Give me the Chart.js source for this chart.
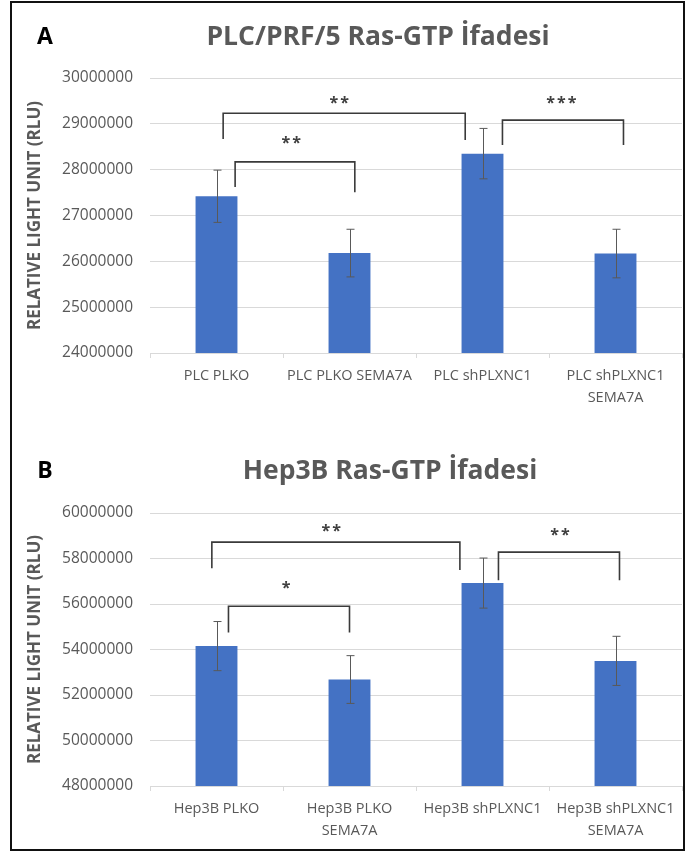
<!DOCTYPE html>
<html>
<head>
<meta charset="utf-8">
<script src="https://cdn.jsdelivr.net/npm/chart.js@4.4.0/dist/chart.umd.min.js"></script>
<style>
  html, body { margin: 0; padding: 0; background: #fff; }
  body { width: 690px; height: 852px; position: relative; overflow: hidden; }
  #frame { position: absolute; left: 10px; top: 1px; width: 675px; height: 850px; box-sizing: border-box; border: 2px solid #111; }
  canvas { position: absolute; }
  #chartA { left: 12px; top: 4px; }
  #chartB { left: 12px; top: 410px; }
</style>
</head>
<body>
<canvas id="chartA" width="671" height="400"></canvas>
<canvas id="chartB" width="671" height="436"></canvas>
<div id="frame"></div>
<script>
const categoriesA = ['PLC PLKO', 'PLC PLKO SEMA7A', 'PLC shPLXNC1', ['PLC shPLXNC1', 'SEMA7A']];
const valuesA = [27420000, 26180000, 28350000, 26170000];
const errorsA = [570000, 520000, 550000, 530000];
const ticksA = [24000000, 30000000, 1000000];

const categoriesB = ['Hep3B PLKO', ['Hep3B PLKO', 'SEMA7A'], 'Hep3B shPLXNC1', ['Hep3B shPLXNC1', 'SEMA7A']];
const valuesB = [54150000, 52680000, 56920000, 53500000];
const errorsB = [1080000, 1050000, 1100000, 1080000];
const ticksB = [48000000, 60000000, 2000000];

// significance brackets: [from, to, top, left leg end, right leg end]
const bracketsA = [
  [0.05, 1.87, 29230000, 28670000, 28650000],
  [0.14, 1.04, 28170000, 27620000, 27510000],
  [2.15, 3.06, 29080000, 28540000, 28540000]
];
const starsA = [[0.93, 29450000, '**'], [0.57, 28580000, '**'], [2.6, 29450000, '***']];

const bracketsB = [
  [-0.035, 1.83, 58720000, 57570000, 57490000],
  [0.09, 1.0, 55900000, 54750000, 54750000],
  [2.12, 3.03, 58280000, 57040000, 57040000]
];
const starsB = [[0.87, 59200000, '**'], [0.53, 56700000, '*'], [2.59, 59030000, '**']];

const FONT = '"Open Sans", sans-serif';
const GRAY = '#595959';

const panelPlugin = {
    id: 'panel',
    afterDatasetsDraw(chart, args, opts) {
        const ctx = chart.ctx;
        const xs = chart.scales.x, ys = chart.scales.y;
        const vals = chart.data.datasets[0].data;

        // error bars
        ctx.save();
        ctx.strokeStyle = GRAY;
        ctx.lineWidth = 1;
        vals.forEach((v, i) => {
            const px = Math.round(xs.getPixelForValue(i)) + 0.5;
            const top = ys.getPixelForValue(v + opts.errors[i]);
            const bot = ys.getPixelForValue(v - opts.errors[i]);
            ctx.beginPath();
            ctx.moveTo(px, top); ctx.lineTo(px, bot);
            ctx.moveTo(px - 4, top); ctx.lineTo(px + 4, top);
            ctx.moveTo(px - 4, bot); ctx.lineTo(px + 4, bot);
            ctx.stroke();
        });

        // brackets
        ctx.strokeStyle = '#3a3a3a';
        ctx.lineWidth = 1.6;
        for (const b of opts.brackets) {
            const x1 = xs.getPixelForValue(b[0]), x2 = xs.getPixelForValue(b[1]);
            ctx.beginPath();
            ctx.moveTo(x1, ys.getPixelForValue(b[3]));
            ctx.lineTo(x1, ys.getPixelForValue(b[2]));
            ctx.lineTo(x2, ys.getPixelForValue(b[2]));
            ctx.lineTo(x2, ys.getPixelForValue(b[4]));
            ctx.stroke();
        }

        // stars
        ctx.fillStyle = '#404040';
        ctx.font = 'bold 16px ' + FONT;
        ctx.textAlign = 'center';
        ctx.textBaseline = 'middle';
        ctx.letterSpacing = '2px';
        for (const s of opts.stars) {
            ctx.fillText(s[2], xs.getPixelForValue(s[0]), ys.getPixelForValue(s[1]));
        }
        ctx.letterSpacing = '0px';

        // panel letter and title
        ctx.fillStyle = '#000';
        ctx.font = 'bold 23px ' + FONT;
        ctx.fillText(opts.letter, 33, opts.titleY);
        ctx.fillStyle = GRAY;
        ctx.font = 'bold 26.5px ' + FONT;
        ctx.fillText(opts.title, opts.titleX, opts.titleY);
        ctx.restore();
    }
};

function makeChart(id, cats, vals, errs, ticks, brackets, stars, panel) {
    const ctx = document.getElementById(id).getContext('2d');
    return new Chart(ctx, {
        type: 'bar',
        data: {
            labels: cats,
            datasets: [{
                data: vals,
                backgroundColor: '#4472C4',
                barPercentage: 0.315,
                categoryPercentage: 1
            }]
        },
        options: {
            responsive: false,
            animation: false,
            layout: { padding: { top: panel.top, right: 1, bottom: 0, left: 0 } },
            plugins: {
                legend: { display: false },
                tooltip: { enabled: false },
                panel: {
                    errors: errs, brackets: brackets, stars: stars,
                    letter: panel.letter, title: panel.title,
                    titleX: panel.titleX, titleY: panel.titleY
                }
            },
            scales: {
                x: {
                    grid: { display: true, drawOnChartArea: false, tickLength: 5, color: '#d9d9d9' },
                    border: { color: '#d9d9d9' },
                    ticks: {
                        padding: 7, color: GRAY, maxRotation: 0, autoSkip: false,
                        font: { family: FONT, size: 14.5, lineHeight: 1.52 }
                    },
                    afterFit: s => { s.height = panel.xHeight; }
                },
                y: {
                    min: ticks[0],
                    max: ticks[1],
                    grid: { color: '#d9d9d9', drawTicks: false },
                    border: { display: false },
                    ticks: {
                        stepSize: ticks[2], padding: 17, color: GRAY,
                        font: { family: FONT, size: 15.5 },
                        callback: v => String(v)
                    },
                    title: {
                        display: true, text: 'RELATIVE LIGHT UNIT (RLU)', color: GRAY,
                        font: { family: FONT, size: 17, weight: 'bold' },
                        padding: { top: 12.5, bottom: 0 }
                    },
                    afterFit: s => { s.width = 138; }
                }
            }
        },
        plugins: [panelPlugin]
    });
}

makeChart('chartA', categoriesA, valuesA, errorsA, ticksA, bracketsA, starsA,
    { top: 74, xHeight: 51, letter: 'A', title: 'PLC/PRF/5 Ras-GTP İfadesi', titleX: 366, titleY: 33 });
makeChart('chartB', categoriesB, valuesB, errorsB, ticksB, bracketsB, starsB,
    { top: 103, xHeight: 60, letter: 'B', title: 'Hep3B Ras-GTP İfadesi', titleX: 378, titleY: 61 });
</script>
</body>
</html>
